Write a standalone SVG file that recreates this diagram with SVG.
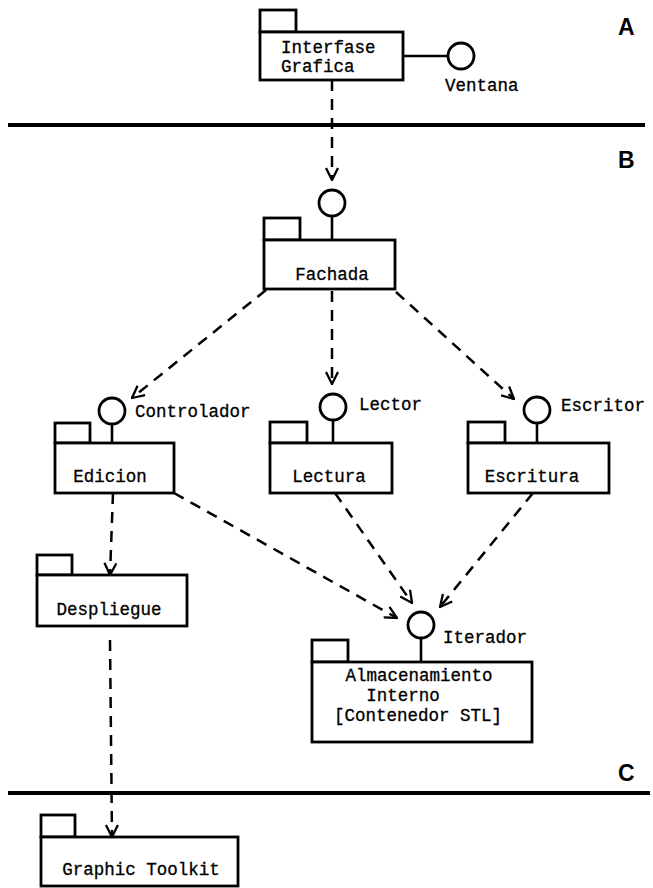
<svg xmlns="http://www.w3.org/2000/svg" width="653" height="888" viewBox="0 0 653 888">
  <style>
    .pk { fill: #fff; stroke: #000; stroke-width: 2.8; }
    .ln { fill: none; stroke: #000; stroke-width: 2.6; }
    .ifc { fill: #fff; stroke: #000; stroke-width: 2.8; }
    .dep { fill: none; stroke: #000; stroke-width: 2.5; stroke-dasharray: 11 8; marker-end: url(#open); }
    .sep { stroke: #000; stroke-width: 4; }
    .t { font-family: "Liberation Mono", "Courier New", monospace; font-size: 17.5px; fill: #000; stroke: #000; stroke-width: 0.3; }
    .c { text-anchor: middle; }
    .lay { font-family: "Liberation Sans", Arial, sans-serif; font-size: 23px; font-weight: bold; fill: #000; }
  </style>
  <defs>
    <marker id="open" viewBox="0 0 14 14" refX="13" refY="7" markerWidth="14" markerHeight="14" markerUnits="userSpaceOnUse" orient="auto">
      <path d="M1,1 L13,7 L1,13" fill="none" stroke="#000" stroke-width="2.3"/>
    </marker>
  </defs>

  <rect width="653" height="888" fill="#fff"/>

  <!-- layer separators and labels -->
  <g id="layers">
    <line class="sep" x1="8" y1="125" x2="645" y2="125"/>
    <line class="sep" x1="8" y1="793" x2="650" y2="793"/>
    <text class="lay" x="618" y="35">A</text>
    <text class="lay" x="618" y="168">B</text>
    <text class="lay" x="618" y="781">C</text>
  </g>

  <!-- dependencies -->
  <g id="connectors">
    <line class="dep" x1="332" y1="80" x2="332" y2="180"/>
    <line class="dep" x1="266" y1="290" x2="132" y2="398"/>
    <line class="dep" x1="332" y1="291" x2="332" y2="384"/>
    <line class="dep" x1="396" y1="292" x2="514" y2="399"/>
    <line class="dep" x1="113" y1="493" x2="110" y2="575"/>
    <line class="dep" x1="174" y1="493" x2="397" y2="618"/>
    <line class="dep" x1="335" y1="493" x2="412" y2="603"/>
    <line class="dep" x1="533" y1="493" x2="440" y2="607"/>
    <line class="dep" x1="110" y1="640" x2="112" y2="837"/>
  </g>

  <g id="interfase-grafica">
    <rect class="pk" x="260" y="10" width="36" height="22"/>
    <rect class="pk" x="260" y="32" width="143" height="48"/>
    <line class="ln" x1="403" y1="56" x2="448" y2="56"/>
    <circle class="ifc" cx="461" cy="56" r="13"/>
    <text class="t" x="281" y="53" font-size="16.5">Interfase</text>
    <text class="t" x="281" y="72" font-size="16.5">Grafica</text>
    <text class="t" x="445" y="91">Ventana</text>
  </g>

  <g id="fachada">
    <line class="ln" x1="332" y1="216" x2="332" y2="240"/>
    <circle class="ifc" cx="332" cy="203" r="13"/>
    <rect class="pk" x="264" y="218" width="36" height="22"/>
    <rect class="pk" x="264" y="240" width="131" height="49"/>
    <text class="t c" x="332" y="280">Fachada</text>
  </g>

  <g id="edicion">
    <line class="ln" x1="112" y1="424" x2="112" y2="443"/>
    <circle class="ifc" cx="112" cy="411" r="13"/>
    <text class="t" x="135" y="417">Controlador</text>
    <rect class="pk" x="55" y="423" width="35" height="20"/>
    <rect class="pk" x="55" y="443" width="119" height="50"/>
    <text class="t c" x="110" y="482">Edicion</text>
  </g>

  <g id="lectura">
    <line class="ln" x1="333" y1="420" x2="333" y2="443"/>
    <circle class="ifc" cx="333" cy="407" r="13"/>
    <text class="t" x="359" y="410">Lector</text>
    <rect class="pk" x="270" y="422" width="37" height="21"/>
    <rect class="pk" x="270" y="443" width="122" height="50"/>
    <text class="t c" x="329" y="482">Lectura</text>
  </g>

  <g id="escritura">
    <line class="ln" x1="537" y1="423" x2="537" y2="443"/>
    <circle class="ifc" cx="537" cy="410" r="13"/>
    <text class="t" x="561" y="411">Escritor</text>
    <rect class="pk" x="468" y="422" width="37" height="21"/>
    <rect class="pk" x="468" y="443" width="141" height="50"/>
    <text class="t c" x="532" y="482">Escritura</text>
  </g>

  <g id="despliegue">
    <rect class="pk" x="37" y="555" width="35" height="20"/>
    <rect class="pk" x="37" y="575" width="150" height="51"/>
    <text class="t c" x="109" y="615">Despliegue</text>
  </g>

  <g id="almacenamiento-interno">
    <line class="ln" x1="421" y1="638" x2="421" y2="662"/>
    <circle class="ifc" cx="421" cy="625" r="13"/>
    <text class="t" x="443" y="643">Iterador</text>
    <rect class="pk" x="312" y="640" width="36" height="22"/>
    <rect class="pk" x="312" y="662" width="220" height="80"/>
    <text class="t c" x="419" y="681">Almacenamiento</text>
    <text class="t c" x="403" y="701">Interno</text>
    <text class="t c" x="418" y="721">[Contenedor STL]</text>
  </g>

  <g id="graphic-toolkit">
    <rect class="pk" x="41" y="815" width="34" height="22"/>
    <rect class="pk" x="41" y="837" width="197" height="49"/>
    <text class="t c" x="141" y="875">Graphic Toolkit</text>
  </g>
</svg>
